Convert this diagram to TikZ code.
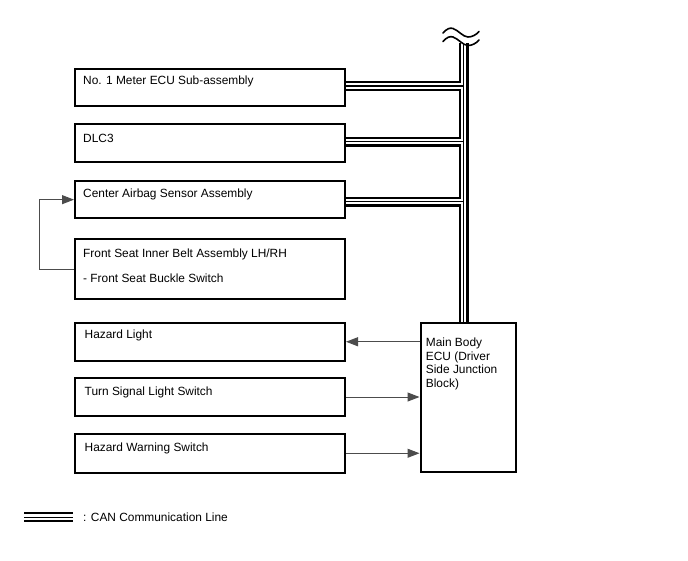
\documentclass[tikz,border=0pt]{standalone}
\usepackage{fontspec}
\setmainfont{Liberation Sans}
\usetikzlibrary{arrows.meta}
\tikzset{
  box/.style={draw=black, line width=2pt, rectangle, inner sep=0pt, anchor=north west, minimum width=270pt},
  txt/.style={inner sep=0pt, anchor=base west, font=\fontsize{11.9}{13.8}\selectfont},
  conn/.style={draw=black!70, line width=1pt, -{Triangle[length=12pt,width=9pt]}},
  fb/.style={draw=black!70, line width=1pt},
  canouter/.style={line width=10pt, black, line cap=butt},
  canwhite/.style={line width=5.8pt, white, line cap=butt},
  caninner/.style={line width=1.6pt, black, line cap=butt},
  squig/.style={line width=1.6pt, black, line cap=round}
}
\begin{document}
\begin{tikzpicture}[x=1pt,y=-1pt]
\useasboundingbox[fill=white] (0,0) rectangle (688,560);

% boxes
\node[box, minimum height=37.8pt] (b1) at (74,67.5) {};
\node[box, minimum height=38pt] (b2) at (74,122.7) {};
\node[box, minimum height=37.3pt] (b3) at (74,180) {};
\node[box, minimum height=60.6pt] (b4) at (74,237.7) {};
\node[box, minimum height=38.5pt] (b5) at (74,321.5) {};
\node[box, minimum height=38pt] (b6) at (74,377) {};
\node[box, minimum height=38.5pt] (b7) at (74,433) {};
\node[box, minimum width=95pt, minimum height=149.3pt] (ecu) at (419.5,321.7) {};

% texts
\node[txt] (t1) at (83,84) {No. 1 Meter ECU Sub-assembly};
\node[txt] (t2) at (83,142.5) {DLC3};
\node[txt] (t3) at (83,197.5) {Center Airbag Sensor Assembly};
\node[txt] (t4a) at (83,257.5) {Front Seat Inner Belt Assembly LH/RH};
\node[txt] (t4b) at (83,282.5) {- Front Seat Buckle Switch};
\node[txt] (t5) at (84.5,338) {Hazard Light};
\node[txt] (t6) at (84.5,395) {Turn Signal Light Switch};
\node[txt] (t7) at (84.5,451) {Hazard Warning Switch};
\node[txt] (te1) at (425.7,346.2) {Main Body};
\node[txt] (te2) at (425.7,360) {ECU (Driver};
\node[txt] (te3) at (425.7,373.8) {Side Junction};
\node[txt] (te4) at (425.7,387.6) {Block)};

% CAN bus
\coordinate (top) at (463.5,43);
\coordinate (bot) at (ecu.north -| top);
\coordinate (j1) at (top |- 0,86);
\coordinate (j2) at (top |- 0,141.5);
\coordinate (j3) at (top |- 0,201.5);
\coordinate (s1) at (b1.east |- j1);
\coordinate (s2) at (b2.east |- j2);
\coordinate (s3) at (b3.east |- j3);
\foreach \st in {canouter,canwhite,caninner}{
  \draw[\st] (top) -- (bot);
  \draw[\st] (s1) -- (j1);
  \draw[\st] (s2) -- (j2);
  \draw[\st] (s3) -- (j3);
}

% break symbol
\draw[squig] (443,33) .. controls (447,28.5) and (450,27.5) .. (453,28.5) .. controls (458,30) and (463,37) .. (468,37) .. controls (472,37) and (476,35) .. (479,31.5);
\draw[squig] (443,41.5) .. controls (447,37) and (450,36) .. (453,37) .. controls (458,38.5) and (463,45.5) .. (468,45.5) .. controls (472,45.5) and (476,43.5) .. (479,40);

% signal connectors
\draw[conn] (ecu.west |- b5.east) -- (b5.east);
\draw[conn] (b6.east) -- (b6.east -| ecu.west);
\draw[conn] (b7.east) -- (b7.east -| ecu.west);
\draw[fb] (b4.west) -- ++(-34.7,0) coordinate (fbc);
\draw[conn] (fbc) |- (b3.west);

% legend
\coordinate (l1) at (24,517.3);
\coordinate (l2) at (73,517.3);
\foreach \st in {canouter,canwhite,caninner}{
  \draw[\st] (l1) -- (l2);
}
\node[txt] (lt) at (83,521.5) {: CAN Communication Line};
\end{tikzpicture}
\end{document}
